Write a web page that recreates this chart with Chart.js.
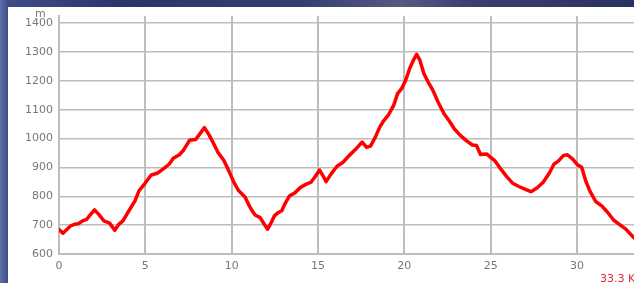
<!DOCTYPE html>
<html>
<head>
<meta charset="utf-8">
<script src="https://cdn.jsdelivr.net/npm/chart.js@4"></script>
<style>
html,body{margin:0;padding:0;width:634px;height:283px;overflow:hidden;}
body{background:linear-gradient(90deg,#5c6fa6 0px,#3d4d88 8px,#2b356a 120px,#333d72 300px,#565a82 400px,#3a3f70 470px,#2a3263 634px);position:relative;font-family:"DejaVu Sans",Verdana,sans-serif;}
#panel{position:absolute;left:8px;top:7px;width:626px;height:276px;background:#fff;}
#wrap{position:absolute;left:0;top:0;width:634px;height:283px;}
.lbl{position:absolute;font-size:11px;line-height:11px;white-space:nowrap;}
</style>
</head>
<body>
<div id="panel"></div>
<div id="wrap"><canvas id="c" width="634" height="283"></canvas></div>
<span class="lbl" style="left:35px;top:8px;color:#777;">m</span>
<span class="lbl" style="left:600px;top:273px;color:#e0283e;">33.3 Km</span>
<script>
const distanceKm = [0,0.23,0.66,0.89,1.12,1.36,1.6,1.76,2.06,2.29,2.6,2.93,3.23,3.46,3.7,4.05,4.4,4.63,4.98,5.34,5.69,6.04,6.39,6.62,6.97,7.2,7.56,7.91,8.19,8.42,8.68,8.96,9.2,9.55,9.83,10.13,10.41,10.77,11.07,11.35,11.65,11.89,12.08,12.29,12.47,12.71,12.9,13.13,13.36,13.64,13.99,14.35,14.58,14.81,15.09,15.28,15.47,15.75,16.1,16.45,16.8,17.15,17.55,17.81,18.04,18.32,18.56,18.79,19.07,19.38,19.61,19.85,20.08,20.31,20.55,20.71,20.9,21.13,21.37,21.65,21.95,22.3,22.58,22.89,23.24,23.59,23.94,24.18,24.41,24.76,25.0,25.23,25.58,25.93,26.28,26.63,26.98,27.33,27.68,28.04,28.39,28.67,28.9,29.21,29.44,29.74,30.03,30.27,30.5,30.74,31.08,31.43,31.78,32.13,32.49,32.83,33.3];
const elevationM = [685,672,697,703,705,715,720,732,753,738,715,707,682,703,715,750,784,819,845,874,880,895,912,932,944,959,994,997,1019,1038,1014,982,953,924,889,848,819,798,761,735,726,703,686,709,732,744,750,779,802,811,831,843,848,866,891,872,851,877,904,918,941,961,988,970,974,1005,1038,1061,1081,1115,1156,1174,1203,1243,1275,1292,1272,1226,1197,1168,1127,1086,1063,1034,1011,993,978,976,945,947,935,924,895,868,845,834,825,816,829,849,880,912,921,941,944,930,909,901,854,819,782,767,744,717,701,686,656];
const xTicks = [0,5,10,15,20,25,30];
const yTicks = [600,700,800,900,1000,1100,1200,1300,1400];

const points = distanceKm.map((d,i)=>({x:d,y:elevationM[i]}));
const gridColor = '#bdbdbd';
const tickFont = {family:'"DejaVu Sans", Verdana, sans-serif', size:11};

new Chart(document.getElementById('c'), {
  type:'line',
  data:{datasets:[{data:points,borderColor:'#ff0000',borderWidth:3.5,pointRadius:0,tension:0,fill:false,borderJoinStyle:'round',borderCapStyle:'round'}]},
  options:{
    responsive:false,animation:false,
    layout:{padding:{left:0,right:0,top:16,bottom:0}},
    plugins:{legend:{display:false},tooltip:{enabled:false}},
    scales:{
      x:{type:'linear',min:0,max:33.3,
        afterBuildTicks:s=>{s.ticks=xTicks.map(v=>({value:v}));},
        afterFit:s=>{s.height=29;},
        grid:{color:gridColor,lineWidth:2,drawTicks:false},
        border:{color:gridColor,width:2},
        ticks:{color:'#777',font:tickFont,padding:6,maxRotation:0,callback:v=>String(v)}
      },
      y:{type:'linear',min:600,max:1425,
        afterBuildTicks:s=>{s.ticks=yTicks.map(v=>({value:v}));},
        afterFit:s=>{s.width=59;},
        grid:{color:gridColor,lineWidth:1.5,drawTicks:false},
        border:{color:gridColor,width:2},
        ticks:{color:'#777',font:tickFont,padding:6,callback:v=>String(v)}
      }
    }
  }
});
</script>
</body>
</html>
